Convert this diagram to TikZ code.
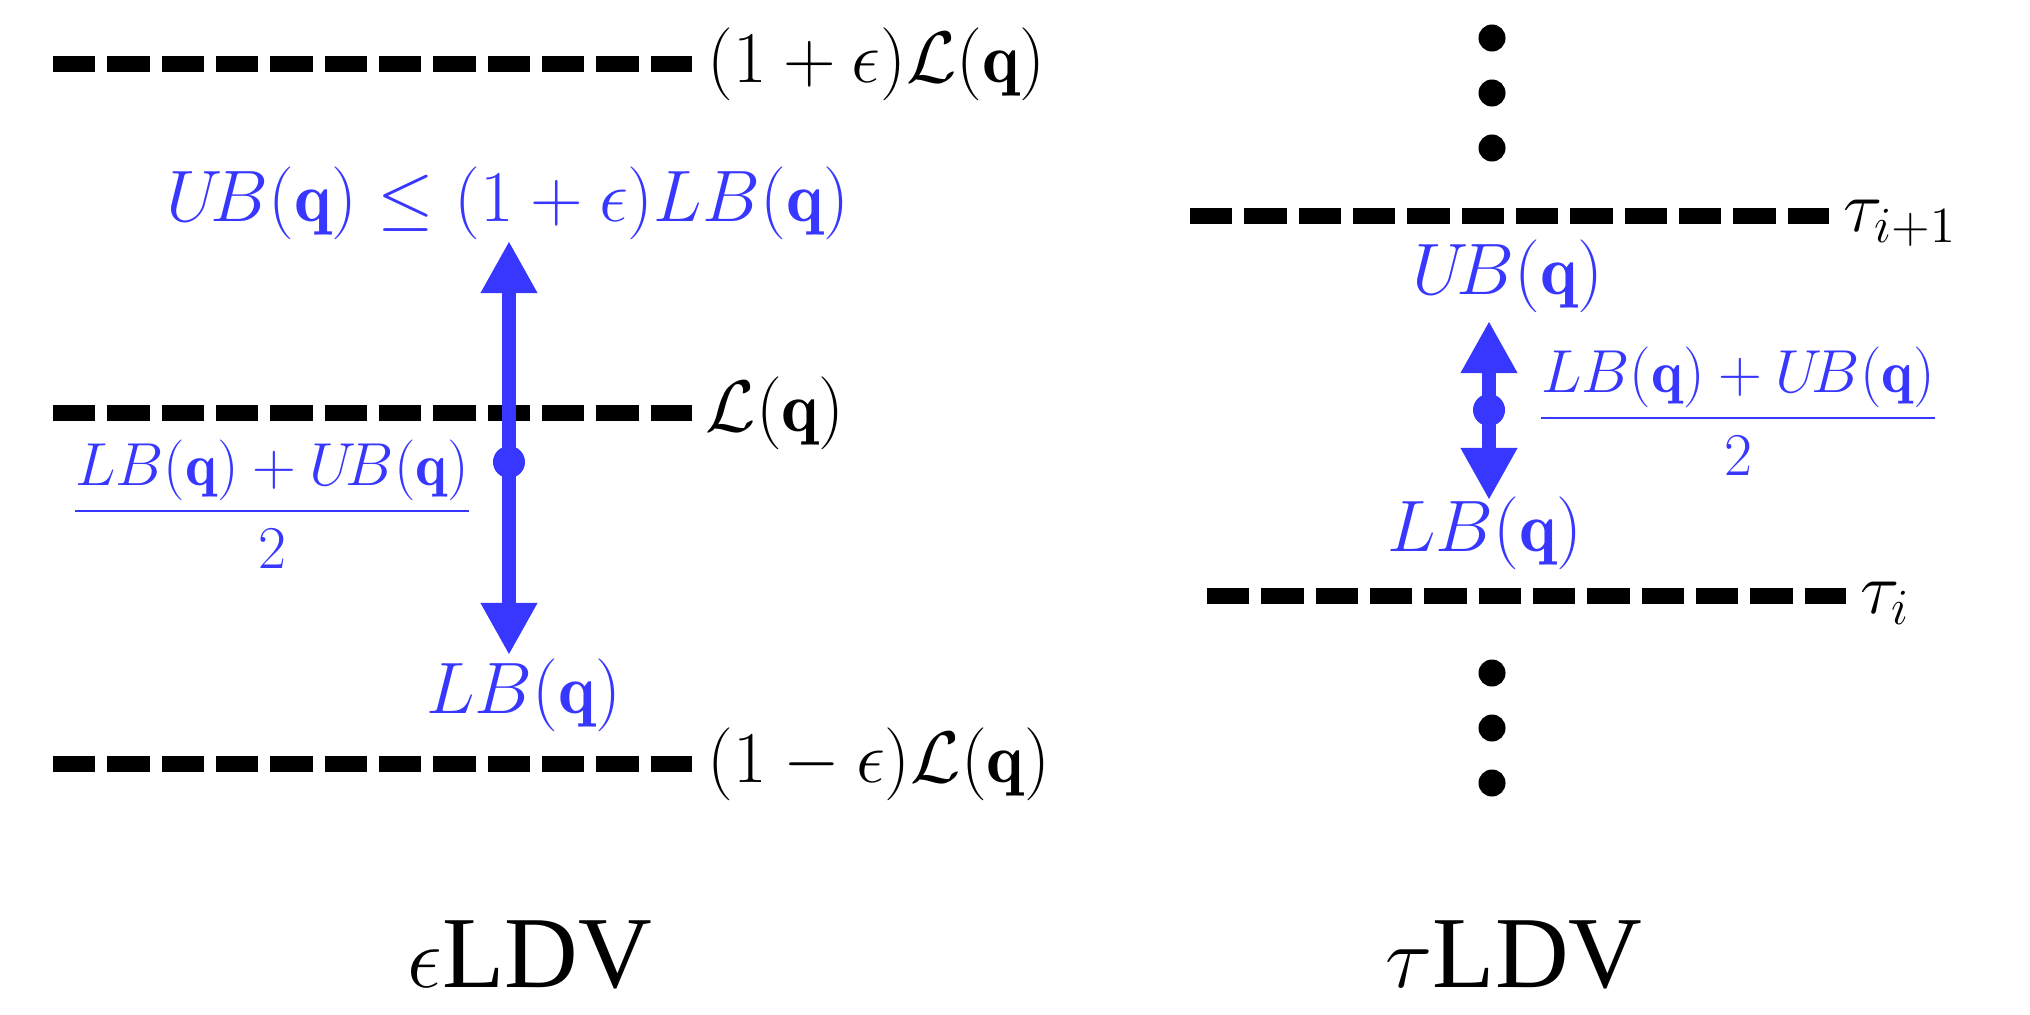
\documentclass[tikz,border=0pt]{standalone}
\usepackage{amsmath,amssymb}
\usepackage{fontspec}
\newfontfamily\capfont{Liberation Serif}
\usetikzlibrary{arrows.meta,positioning}
\definecolor{bblue}{RGB}{55,55,255}

\begin{document}
\begin{tikzpicture}[x=0.01cm,y=-0.01cm,font=\fontsize{20}{24}\selectfont]
\tikzset{
  lvl/.style={line width=0.16cm,dash pattern=on 0.422cm off 0.121cm},
  lvllab/.style={inner sep=0pt,anchor=west},
  bnd/.style={text=bblue,inner sep=0pt},
  frc/.style={text=bblue,inner sep=0pt,font=\fontsize{17}{20}\selectfont},
  rng/.style={{Triangle[length=0.52cm,width=0.53cm]}-{Triangle[length=0.52cm,width=0.53cm]},
    bblue,line width=0.133cm},
  mdot/.style={circle,fill=bblue,inner sep=0pt,minimum size=0.32cm},
  vdot/.style={circle,fill=black,inner sep=0pt,minimum size=0.27cm},
  ldvcap/.style={anchor=base,inner sep=0pt,font=\capfont\fontsize{29}{34}\selectfont}
}
\useasboundingbox (0,0) rectangle (2030,1015);

% epsilon LDV
\coordinate (hiL) at (53,64);   \coordinate (hiR) at (692,64);
\coordinate (mdL) at (53,413);  \coordinate (mdR) at (692,413);
\coordinate (loL) at (53,764);  \coordinate (loR) at (692,764);
\draw[lvl] (hiL) -- (hiR);
\draw[lvl] (mdL) -- (mdR);
\draw[lvl] (loL) -- (loR);
\node[lvllab,right=0.15cm of hiR] (hilab) {$(1+\epsilon)\mathcal{L}(\mathbf{q})$};
\node[lvllab,right=0.13cm of mdR] (mdlab) {$\mathcal{L}(\mathbf{q})$};
\node[lvllab,right=0.15cm of loR] (lolab) {$(1-\epsilon)\mathcal{L}(\mathbf{q})$};

\coordinate (eTop) at (509,241); \coordinate (eBot) at (509,655);
\draw[rng] (eTop) -- (eBot);
\node[mdot] (eMid) at (509,462) {};
\node[bnd] (eUB) at (508,203) {$U\!B(\mathbf{q})\leq(1+\epsilon)LB(\mathbf{q})$};
\node[bnd] (eLB) at (524,695) {$LB(\mathbf{q})$};
\node[frc] (eFr) at (272,504) {$\dfrac{LB(\mathbf{q})+U\!B(\mathbf{q})}{2}$};

\node[ldvcap] (eCap) at (530,987) {$\epsilon$LDV};

% tau LDV
\foreach \y [count=\i] in {38,93,148} {\node[vdot] (up\i) at (1492,\y) {};}
\foreach \y [count=\i] in {673,728,783} {\node[vdot] (dn\i) at (1492,\y) {};}
\coordinate (thL) at (1190,216); \coordinate (thR) at (1829,216);
\coordinate (tlL) at (1207,596); \coordinate (tlR) at (1846,596);
\draw[lvl] (thL) -- (thR);
\draw[lvl] (tlL) -- (tlR);
\node[lvllab,right=0.14cm of thR,yshift=-2pt] (thlab) {$\tau_{i+1}$};
\node[lvllab,right=0.14cm of tlR,yshift=-2pt] (tllab) {$\tau_{i}$};

\coordinate (tTop) at (1489,321); \coordinate (tBot) at (1489,500);
\draw[rng] (tTop) -- (tBot);
\node[mdot] (tMid) at (1489,410) {};
\node[bnd] (tUB) at (1508,276) {$U\!B(\mathbf{q})$};
\node[bnd] (tLB) at (1485,533) {$LB(\mathbf{q})$};
\node[frc] (tFr) at (1738,411) {$\dfrac{LB(\mathbf{q})+U\!B(\mathbf{q})}{2}$};

\node[ldvcap] (tCap) at (1514,987) {$\tau$LDV};
\end{tikzpicture}
\end{document}
